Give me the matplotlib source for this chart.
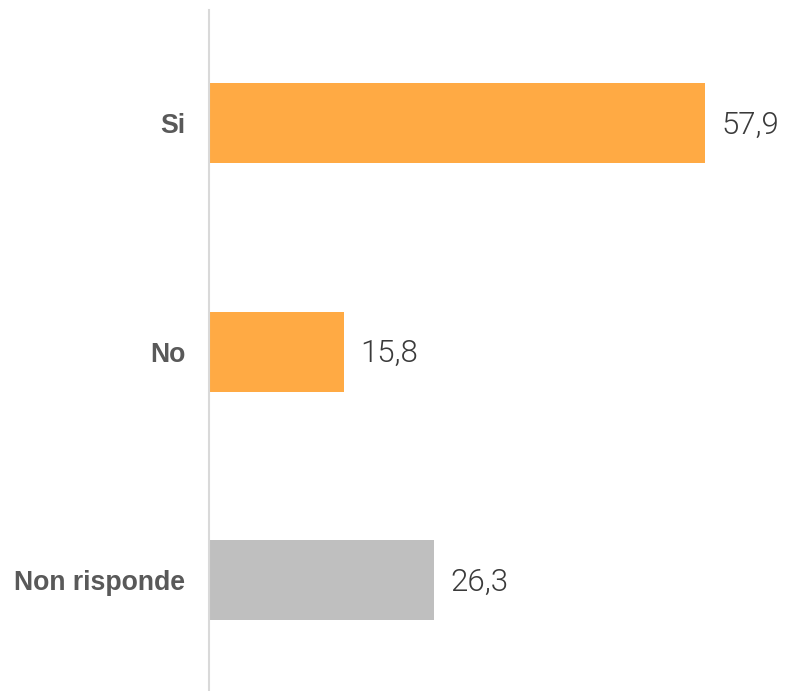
import matplotlib.pyplot as plt

categorie = ["Si", "No", "Non risponde"]
valori = [57.9, 15.8, 26.3]
colori = ["#FFAA44", "#FFAA44", "#BFBFBF"]
etichette = ["57,9", "15,8", "26,3"]

fig = plt.figure(figsize=(7.89, 6.91), dpi=100)
ax = fig.add_axes([209 / 789, 0, 580 / 789, 681 / 691])

pos = list(range(len(categorie)))
ax.barh(pos, valori, height=0.35, color=colori)

ax.set_xlim(0, 580 / 8.566)
ax.set_ylim(-0.4945 + 2.98, -0.4945)

for p, v, t in zip(pos, valori, etichette):
    ax.text(v + 1.9, p + 0.01, t, va="center", ha="left", fontsize=22.5,
            family="Roboto", fontweight=300, color="#3A3A3A")

ax.set_yticks(pos)
ax.set_yticklabels(categorie, fontsize=19.2, fontweight="bold",
                   family="Liberation Sans", color="#595959")
ax.tick_params(axis="y", length=0, pad=17)
ax.set_xticks([])

for s in ["top", "right", "bottom"]:
    ax.spines[s].set_visible(False)
ax.spines["left"].set_color("#D9D9D9")
ax.spines["left"].set_linewidth(1.5)

fig.savefig("out.png", dpi=100)
